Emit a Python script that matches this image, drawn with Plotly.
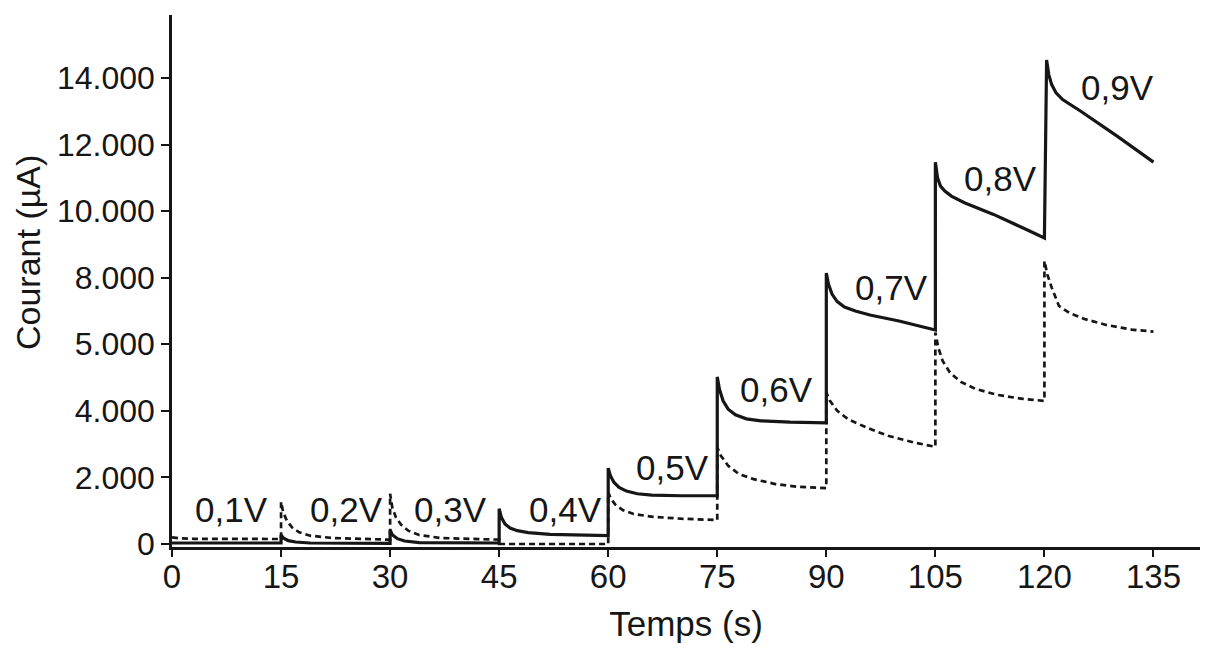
import plotly.graph_objects as go

# Solid curve (time s, current µA)
solid_t = [0, 15,
           15, 15.3, 16, 17, 19, 30,
           30, 30.3, 31, 32, 34, 45,
           45, 45.3, 45.8, 46.5, 47.5, 49, 52, 56, 60,
           60, 60.3, 60.8, 61.5, 62.5, 64, 66, 70, 75,
           75, 75.3, 75.8, 76.5, 77.5, 79, 81, 85, 90,
           90, 90.3, 90.8, 91.5, 92.5, 94, 96, 100, 105,
           105, 105.3, 105.7, 106.3, 107.2, 109, 113, 117, 120,
           120.3, 120.6, 121, 121.6, 122.5, 125, 130, 135]
solid_v = [30, 30,
           270, 180, 100, 60, 30, 20,
           420, 280, 160, 90, 40, 30,
           1060, 800, 600, 480, 400, 340, 290, 260, 250,
           2280, 2050, 1850, 1700, 1590, 1510, 1470, 1450, 1450,
           5020, 4650, 4300, 4050, 3880, 3760, 3700, 3660, 3640,
           8140, 7800, 7500, 7280, 7120, 7000, 6880, 6700, 6430,
           11470, 11000, 10750, 10600, 10450, 10250, 9900, 9500, 9190,
           14540, 14100, 13800, 13550, 13350, 13000, 12250, 11470]

# Dashed curve
dash_t = [0, 1, 3, 15,
          15, 15.3, 15.8, 16.5, 17.5, 19, 22, 30,
          30, 30.3, 30.8, 31.5, 32.5, 34, 37, 45,
          45, 60,
          60, 60.4, 61, 62, 63.5, 66, 70, 75,
          75, 75.5, 76.5, 78, 80, 83, 86, 90,
          90, 90.5, 91.5, 93, 95.5, 98.5, 102, 105,
          105, 105.4, 106, 107, 108.5, 110.5, 113.5, 117, 120,
          120, 120.4, 121, 122, 123.5, 125.5, 128.5, 132, 135]
dash_v = [200, 170, 155, 150,
          1270, 950, 700, 500, 350, 250, 180, 130,
          1510, 1100, 800, 580, 400, 270, 180, 130,
          0, 0,
          1550, 1350, 1180, 1020, 900, 820, 760, 720,
          2900, 2650, 2350, 2100, 1950, 1800, 1720, 1680,
          4550, 4300, 4000, 3750, 3500, 3250, 3050, 2920,
          6350, 5900, 5500, 5150, 4870, 4660, 4480, 4360, 4300,
          8500, 8100, 7700, 7150, 6930, 6760, 6580, 6440, 6380]

# Voltage labels
label_text = ["0,1V", "0,2V", "0,3V", "0,4V", "0,5V", "0,6V", "0,7V", "0,8V", "0,9V"]
label_t = [8.2, 24.0, 38.3, 54.1, 68.8, 83.2, 99.0, 114.0, 130.1]
label_v = [1050, 1050, 1050, 1050, 2310, 4630, 7690, 10990, 13700]

x_tickvals = [0, 15, 30, 45, 60, 75, 90, 105, 120, 135]
y_tickvals = [0, 2000, 4000, 6000, 8000, 10000, 12000, 14000]
y_ticktext = ["0", "2.000", "4.000", "5.000", "8.000", "10.000", "12.000", "14.000"]

FONT = "Liberation Sans, Arial, sans-serif"
INK = "#161616"

fig = go.Figure()
fig.add_trace(go.Scatter(x=dash_t, y=dash_v, mode="lines",
                         line=dict(color=INK, width=2.7, dash="6px,4px"),
                         showlegend=False))
fig.add_trace(go.Scatter(x=solid_t, y=solid_v, mode="lines",
                         line=dict(color=INK, width=3.2),
                         showlegend=False))

for txt, t, v in zip(label_text, label_t, label_v):
    fig.add_annotation(x=t, y=v, xref="x", yref="y", text=txt, showarrow=False,
                       font=dict(family=FONT, size=35, color=INK),
                       xanchor="center", yanchor="middle")

fig.add_annotation(x=-144/1028, y=(539 - 245) / 532, xref="paper", yref="paper",
                   text="Courant (µA)", textangle=-90, showarrow=False,
                   font=dict(family=FONT, size=34, color=INK),
                   xanchor="center", yanchor="middle")

fig.update_layout(
    width=1205, height=640,
    margin=dict(l=164, r=13, t=7, b=101, autoexpand=False),
    plot_bgcolor="white", paper_bgcolor="white",
    font=dict(family=FONT, color=INK),
)
fig.update_xaxes(range=[0, 141.4], tickvals=x_tickvals,
                 ticks="outside", ticklen=7, tickwidth=2, tickcolor=INK,
                 showline=True, linewidth=2.5, linecolor=INK,
                 showgrid=False, zeroline=False, ticklabelstandoff=-8,
                 tickfont=dict(family=FONT, size=33, color=INK),
                 title=dict(text="Temps (s)", font=dict(family=FONT, size=35, color=INK), standoff=18))
fig.update_yaxes(range=[-90, 15890], tickvals=y_tickvals, ticktext=y_ticktext,
                 ticks="outside", ticklen=8, tickwidth=2, tickcolor=INK,
                 showline=True, linewidth=2.5, linecolor=INK,
                 showgrid=False, zeroline=False,
                 tickfont=dict(family=FONT, size=32, color=INK))

fig.write_html("out.html")
